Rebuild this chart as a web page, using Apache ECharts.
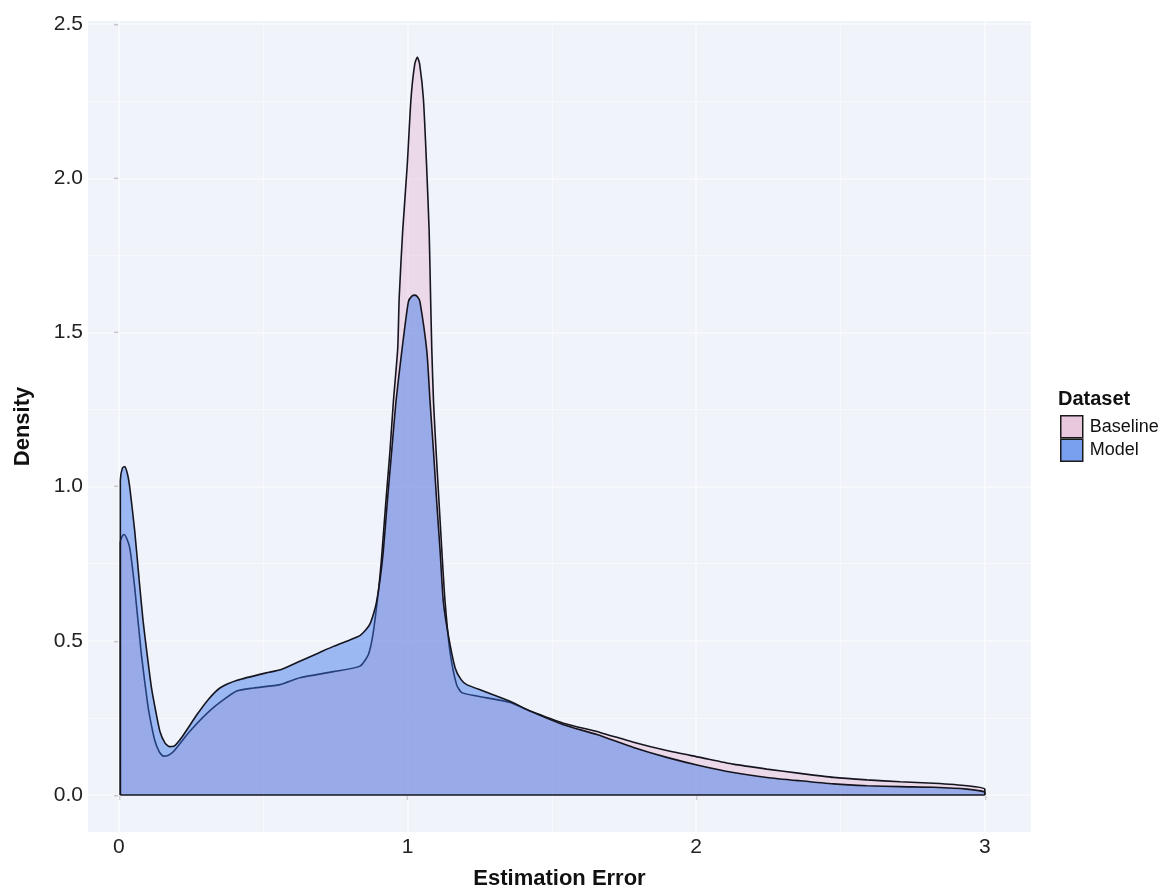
<!DOCTYPE html>
<html>
<head>
<meta charset="utf-8">
<script src="https://cdn.jsdelivr.net/npm/echarts@6/dist/echarts.min.js"></script>
<style>
    html, body { margin: 0; padding: 0; background: #fff; }
    #density { width: 1169px; height: 896px; }
</style>
</head>
<body>
<div id="density"></div>
<script>
// density curves, x = estimation error, y = density
var model_x = [0.005, 0.005, 0.012, 0.02, 0.03, 0.038, 0.055, 0.07, 0.084, 0.1, 0.113, 0.128, 0.142, 0.16, 0.175, 0.19,
    0.22, 0.27, 0.31, 0.35, 0.41, 0.51, 0.56, 0.627, 0.69, 0.743, 0.8, 0.835, 0.855, 0.87, 0.883, 0.893, 0.905, 0.916,
    0.93, 0.945, 0.96, 0.98, 1.003, 1.015, 1.026, 1.035, 1.043, 1.067, 1.078, 1.09, 1.101, 1.113, 1.124, 1.141, 1.165,
    1.185, 1.205, 1.263, 1.355, 1.425, 1.54, 1.656, 1.783, 1.898, 2.014, 2.129, 2.245, 2.36, 2.476, 2.592, 2.707,
    2.823, 2.938, 3.0, 3.0];
var model_y = [0, 1.02, 1.06, 1.065, 1.04, 0.995, 0.855, 0.70, 0.563, 0.44, 0.347, 0.27, 0.207, 0.168, 0.157, 0.158,
    0.19, 0.26, 0.31, 0.347, 0.372, 0.396, 0.406, 0.434, 0.46, 0.482, 0.503, 0.517, 0.535, 0.555, 0.59, 0.628, 0.70, 0.79,
    0.952, 1.114, 1.276, 1.438, 1.60, 1.618, 1.621, 1.615, 1.60, 1.438, 1.276, 1.114, 0.952, 0.79, 0.628, 0.52, 0.412,
    0.375, 0.358, 0.337, 0.304, 0.272, 0.228, 0.196, 0.154, 0.122, 0.095, 0.073, 0.057, 0.046, 0.036, 0.030, 0.027,
    0.025, 0.019, 0.009, 0];

var base_x = [0.005, 0.005, 0.012, 0.018, 0.028, 0.038, 0.055, 0.078, 0.1, 0.113, 0.125, 0.14, 0.154, 0.17, 0.19,
    0.246, 0.327, 0.408, 0.466, 0.558, 0.627, 0.743, 0.835, 0.864, 0.88, 0.899, 0.91, 0.925, 0.939, 0.951, 0.966, 0.971,
    0.983, 0.999, 1.012, 1.025, 1.034, 1.042, 1.055, 1.066, 1.075, 1.08, 1.084, 1.09, 1.099, 1.109, 1.119, 1.13, 1.147,
    1.17, 1.188, 1.24, 1.355, 1.425, 1.54, 1.667, 1.783, 1.898, 2.014, 2.129, 2.245, 2.36, 2.476, 2.592, 2.707, 2.823,
    2.938, 3.0, 3.0];
var base_y = [0, 0.82, 0.84, 0.845, 0.83, 0.80, 0.671, 0.455, 0.293, 0.225, 0.175, 0.14, 0.126, 0.128, 0.142,
    0.207, 0.283, 0.337, 0.347, 0.358, 0.38, 0.40, 0.418, 0.455, 0.52, 0.66, 0.768, 0.952, 1.114, 1.276, 1.448, 1.61,
    1.826, 2.042, 2.258, 2.37, 2.393, 2.37, 2.258, 2.042, 1.826, 1.61, 1.448, 1.276, 1.114, 0.952, 0.79, 0.628, 0.466,
    0.358, 0.332, 0.321, 0.30, 0.272, 0.233, 0.203, 0.171, 0.144, 0.122, 0.100, 0.084, 0.070, 0.057, 0.049, 0.043, 0.038,
    0.030, 0.019, 0];

var x_ticks = [0, 1, 2, 3];
var y_ticks = [0, 0.5, 1, 1.5, 2, 2.5];
var x_minor = [0.5, 1.5, 2.5];
var y_minor = [0.25, 0.75, 1.25, 1.75, 2.25];
var dataset_names = ['Baseline', 'Model'];

function pairs(xs, ys) {
    var out = [];
    for (var i = 0; i < xs.length; i++) out.push([xs[i], ys[i]]);
    return out;
}

function gridLines() {
    var d = [];
    x_ticks.forEach(function (v) { d.push({ xAxis: v, lineStyle: { width: 1.6 } }); });
    x_minor.forEach(function (v) { d.push({ xAxis: v, lineStyle: { width: 0.8 } }); });
    y_ticks.forEach(function (v) { d.push({ yAxis: v, lineStyle: { width: 1.6 } }); });
    y_minor.forEach(function (v) { d.push({ yAxis: v, lineStyle: { width: 0.8 } }); });
    return d;
}

var FONT = '"Liberation Sans", Arial, sans-serif';
var chart = echarts.init(document.getElementById('density'));

var option = {
    animation: false,
    backgroundColor: '#ffffff',
    textStyle: { fontFamily: FONT },
    title: {
        text: 'Dataset',
        left: 1058,
        top: 389,
        padding: 0,
        textStyle: { fontFamily: FONT, fontSize: 20, fontWeight: 'bold', color: '#111' }
    },
    legend: {
        orient: 'vertical',
        left: 1060,
        top: 415,
        padding: 0,
        itemGap: 0,
        itemWidth: 22,
        itemHeight: 22,
        icon: 'rect',
        textStyle: { fontFamily: FONT, fontSize: 18, color: '#111', padding: [0, 0, 0, 2] },
        data: [
            { name: dataset_names[0], itemStyle: { color: '#e9c8de', borderColor: '#1a1a1a', borderWidth: 1.5 } },
            { name: dataset_names[1], itemStyle: { color: '#78a0ee', borderColor: '#1a1a1a', borderWidth: 1.5 } }
        ]
    },
    grid: {
        left: 88,
        right: 138,
        top: 21,
        bottom: 64,
        show: true,
        backgroundColor: '#f0f3f9',
        borderWidth: 0
    },
    xAxis: {
        type: 'value',
        min: -0.107,
        max: 3.16,
        name: 'Estimation Error',
        nameLocation: 'middle',
        nameGap: 36,
        nameTextStyle: { fontFamily: FONT, fontSize: 22, fontWeight: 'bold', color: '#111' },
        axisLine: { show: false },
        splitLine: { show: false },
        axisTick: { show: true, length: 5, customValues: x_ticks, lineStyle: { color: '#333', width: 1.2 } },
        axisLabel: {
            customValues: x_ticks,
            margin: 5,
            fontFamily: FONT,
            fontSize: 21,
            color: '#222',
            formatter: function (v) { return String(v); }
        }
    },
    yAxis: {
        type: 'value',
        min: -0.12,
        max: 2.51,
        name: 'Density',
        nameLocation: 'middle',
        nameRotate: 90,
        nameGap: 54,
        nameTextStyle: { fontFamily: FONT, fontSize: 22, fontWeight: 'bold', color: '#111' },
        axisLine: { show: false },
        splitLine: { show: false },
        axisTick: { show: true, length: 5, customValues: y_ticks, lineStyle: { color: '#333', width: 1.2 } },
        axisLabel: {
            customValues: y_ticks,
            margin: 5,
            fontFamily: FONT,
            fontSize: 21,
            color: '#222',
            formatter: function (v) { return v.toFixed(1); }
        }
    },
    series: [
        {
            name: 'grid',
            type: 'line',
            data: [],
            silent: true,
            z: 1,
            markLine: {
                silent: true,
                symbol: 'none',
                label: { show: false },
                z: 1,
                lineStyle: { color: '#f9fafd', type: 'solid' },
                data: gridLines()
            }
        },
        {
            name: dataset_names[0],
            type: 'line',
            data: pairs(base_x, base_y),
            showSymbol: false,
            smooth: 0.2,
            z: 2,
            lineStyle: { color: '#15151f', width: 1.6 },
            itemStyle: { color: '#e9c8de' },
            areaStyle: { color: 'rgba(222,130,180,0.35)' }
        },
        {
            name: dataset_names[1],
            type: 'line',
            data: pairs(model_x, model_y),
            showSymbol: false,
            smooth: 0.2,
            z: 3,
            lineStyle: { color: '#15151f', width: 1.6 },
            itemStyle: { color: '#78a0ee' },
            areaStyle: { color: 'rgba(55,115,232,0.65)' }
        },
        {
            name: 'zero',
            type: 'line',
            data: [[0.005, 0], [3.0, 0]],
            showSymbol: false,
            z: 4,
            lineStyle: { color: '#15151f', width: 1.6 }
        }
    ]
};

chart.setOption(option);
</script>
</body>
</html>
